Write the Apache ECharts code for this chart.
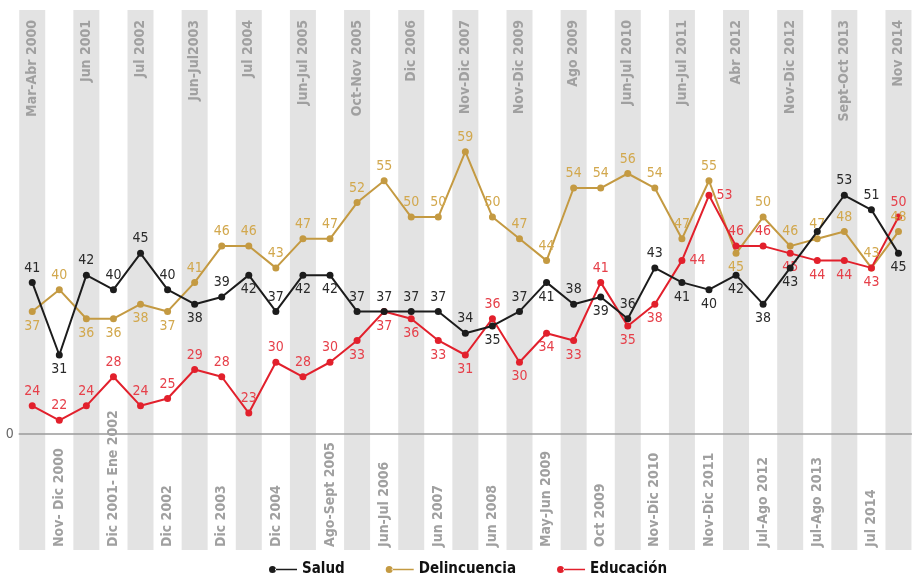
<!DOCTYPE html>
<html>
<head>
<meta charset="utf-8">
<script src="https://cdn.jsdelivr.net/npm/echarts@6/dist/echarts.min.js"></script>
<style>
html,body{margin:0;padding:0;background:#fff;}
#chart{width:912px;height:576px;}
</style>
</head>
<body>
<div id="chart"></div>
<script>
const categories = [
  'Mar-Abr 2000','Nov- Dic 2000','Jun 2001','Dic 2001- Ene 2002','Jul 2002','Dic 2002',
  'Jun-Jul2003','Dic 2003','Jul 2004','Dic 2004','Jun-Jul 2005','Ago-Sept 2005',
  'Oct-Nov 2005','Jun-Jul 2006','Dic 2006','Jun 2007','Nov-Dic 2007','Jun 2008',
  'Nov-Dic 2009','May-Jun 2009','Ago 2009','Oct 2009','Jun-Jul 2010','Nov-Dic 2010',
  'Jun-Jul 2011','Nov-Dic 2011','Abr 2012','Jul-Ago 2012','Nov-Dic 2012','Jul-Ago 2013',
  'Sept-Oct 2013','Jul 2014','Nov 2014'
];
const salud = [41,31,42,40,45,40,38,39,42,37,42,42,37,37,37,37,34,35,37,41,38,39,36,43,41,40,42,38,43,48,53,51,45];
const delincuencia = [37,40,36,36,38,37,41,46,46,43,47,47,52,55,50,50,59,50,47,44,54,54,56,54,47,55,45,50,46,47,48,43,48];
const educacion = [24,22,24,28,24,25,29,28,23,30,28,30,33,37,36,33,31,36,30,34,33,41,35,38,44,53,46,46,45,44,44,43,50];
const baselineLabel = '0';

// label placement per point (t = above, b = below, r = right, '' = no label)
const saludLabelPos = ['t','b','t','t','t','t','b','t','b','t','b','b','t','t','t','t','t','b','t','b','t','b','t','t','b','b','b','b','b','','t','t','b'];
const delincLabelPos = ['b','t','b','b','b','b','t','t','t','t','t','t','t','t','t','t','t','t','t','t','t','t','t','t','t','t','b','t','t','t','t','t','t'];
const educLabelPos = ['t','t','t','t','t','t','t','t','t','t','t','t','b','b','b','b','b','t','b','b','b','t','b','b','r','r','t','t','b','b','b','b','t'];

const posMap = {t:'top', b:'bottom', r:'right'};
const FONT = '"Liberation Sans Narrow","DejaVu Sans Condensed","Noto Sans",sans-serif';

function buildData(values, pos, labelColor) {
  return values.map((v, i) => ({
    value: v,
    label: pos[i] ? {show: true, position: posMap[pos[i]], color: labelColor} : {show: false}
  }));
}

// y scale calibrated so the baseline sits at the reference position
const yMin = 4.14, yMax = 78.52, baselineValue = 20.12;

const chart = echarts.init(document.getElementById('chart'));
const labelFont = {fontFamily: FONT, fontSize: 14};
const catLabel = {color: '#a0a0a0', fontFamily: FONT, fontWeight: 'bold', fontSize: 14};

chart.setOption({
  animation: false,
  backgroundColor: '#ffffff',
  grid: {left: 18.7, width: 896.6, top: 10, height: 540},
  xAxis: [
    {
      type: 'category', data: categories, position: 'bottom', boundaryGap: true, z: 3,
      axisLine: {show: false}, axisTick: {show: false}, splitLine: {show: false},
      axisLabel: Object.assign({
        inside: true, rotate: 90, interval: 0, margin: 3,
        formatter: (v, i) => (i % 2 === 1 ? v : '')
      }, catLabel)
    },
    {
      type: 'category', data: categories, position: 'top', boundaryGap: true, z: 3,
      axisLine: {show: false}, axisTick: {show: false}, splitLine: {show: false},
      axisLabel: Object.assign({
        inside: true, rotate: -90, interval: 0, margin: 10,
        formatter: (v, i) => (i % 2 === 0 ? v : '')
      }, catLabel)
    }
  ],
  yAxis: [
    {type: 'value', min: yMin, max: yMax, show: false, splitLine: {show: false}},
    {type: 'value', min: 0, max: 1, show: false, splitLine: {show: false}}
  ],
  legend: {
    data: ['Salud', 'Delincuencia', 'Educación'],
    left: 264, top: 557,
    itemWidth: 28, itemHeight: 7, itemGap: 41,
    icon: 'path://M0,3.5 a3.5,3.5 0 1,0 7,0 a3.5,3.5 0 1,0 -7,0 Z M6,2.7 L28,2.7 L28,4.3 L6,4.3 Z',
    textStyle: {fontFamily: FONT, fontWeight: 'bold', fontSize: 15, color: '#111'}
  },
  series: [
    {
      name: 'bands', type: 'bar', xAxisIndex: 0, yAxisIndex: 1, silent: true, z: 1,
      barWidth: 26,
      itemStyle: {color: '#e3e3e3'},
      data: categories.map((c, i) => (i % 2 === 0 ? 1 : '-'))
    },
    {
      name: 'Salud', type: 'line', xAxisIndex: 0, yAxisIndex: 0, z: 5,
      symbol: 'circle', symbolSize: 7,
      lineStyle: {color: '#1c1c1c', width: 2},
      itemStyle: {color: '#1c1c1c'},
      label: Object.assign({show: true, distance: 4}, labelFont),
      data: buildData(salud, saludLabelPos, '#2a2a2a'),
      markLine: {
        silent: true, symbol: 'none', z: 2,
        lineStyle: {color: '#9a9a9a', width: 1.5, type: 'solid'},
        label: {position: 'start', formatter: baselineLabel, color: '#666', fontFamily: FONT, fontSize: 14, distance: 5},
        data: [{yAxis: baselineValue}]
      }
    },
    {
      name: 'Delincuencia', type: 'line', xAxisIndex: 0, yAxisIndex: 0, z: 4,
      symbol: 'circle', symbolSize: 7,
      lineStyle: {color: '#c49a42', width: 2},
      itemStyle: {color: '#c49a42'},
      label: Object.assign({show: true, distance: 4}, labelFont),
      data: buildData(delincuencia, delincLabelPos, '#d2a84e')
    },
    {
      name: 'Educación', type: 'line', xAxisIndex: 0, yAxisIndex: 0, z: 4,
      symbol: 'circle', symbolSize: 7,
      lineStyle: {color: '#e2202c', width: 2},
      itemStyle: {color: '#e2202c'},
      label: Object.assign({show: true, distance: 4}, labelFont),
      data: buildData(educacion, educLabelPos, '#e6404a')
    }
  ]
});
</script>
</body>
</html>
